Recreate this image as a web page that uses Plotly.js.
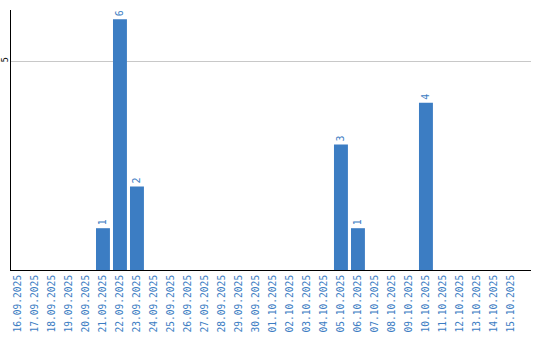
<!DOCTYPE html>
<html><head><meta charset="utf-8">
<script src="https://cdn.plot.ly/plotly-3.0.1.min.js"></script>
<style>body{margin:0;padding:0;background:#fff}#c{width:540px;height:340px}</style>
</head><body><div id="c"></div>
<script>
const dates = ["16.09.2025","17.09.2025","18.09.2025","19.09.2025","20.09.2025","21.09.2025","22.09.2025","23.09.2025","24.09.2025","25.09.2025","26.09.2025","27.09.2025","28.09.2025","29.09.2025","30.09.2025","01.10.2025","02.10.2025","03.10.2025","04.10.2025","05.10.2025","06.10.2025","07.10.2025","08.10.2025","09.10.2025","10.10.2025","11.10.2025","12.10.2025","13.10.2025","14.10.2025","15.10.2025"];
const counts = [0,0,0,0,0,1,6,2,0,0,0,0,0,0,0,0,0,0,0,3,1,0,0,0,4,0,0,0,0,0];
const labels = counts.map(v => v > 0 ? String(v) : "");
const barColor = "#3c7dc3";

Plotly.newPlot("c", [{
  type: "bar",
  x: dates,
  y: counts,
  text: labels,
  textposition: "outside",
  textangle: -90,
  cliponaxis: false,
  textfont: {family: "DejaVu Sans Mono", size: 10, color: barColor},
  marker: {color: barColor},
  hoverinfo: "none"
}], {
  width: 540, height: 340,
  margin: {l: 11, r: 9, t: 10, b: 70, pad: 0},
  paper_bgcolor: "#fff", plot_bgcolor: "#fff",
  bargap: 0.18,
  showlegend: false,
  xaxis: {
    type: "category",
    range: [-0.41, 30.18],
    tickangle: -90,
    tickfont: {family: "DejaVu Sans Mono", size: 9.6, color: barColor},
    showline: true, linecolor: "#000", linewidth: 1,
    showgrid: false, ticks: "", automargin: false
  },
  yaxis: {
    range: [0, 6.22],
    tickvals: [5], ticktext: ["5"],
    tickangle: -90,
    ticklabelstandoff: -1,
    tickfont: {family: "DejaVu Sans", size: 8, color: "#000"},
    showline: true, linecolor: "#000", linewidth: 1,
    showgrid: true, gridcolor: "#c8c8c8", gridwidth: 1,
    zeroline: false, ticks: "", automargin: false
  }
}, {staticPlot: true, displayModeBar: false});
</script>
</body></html>
